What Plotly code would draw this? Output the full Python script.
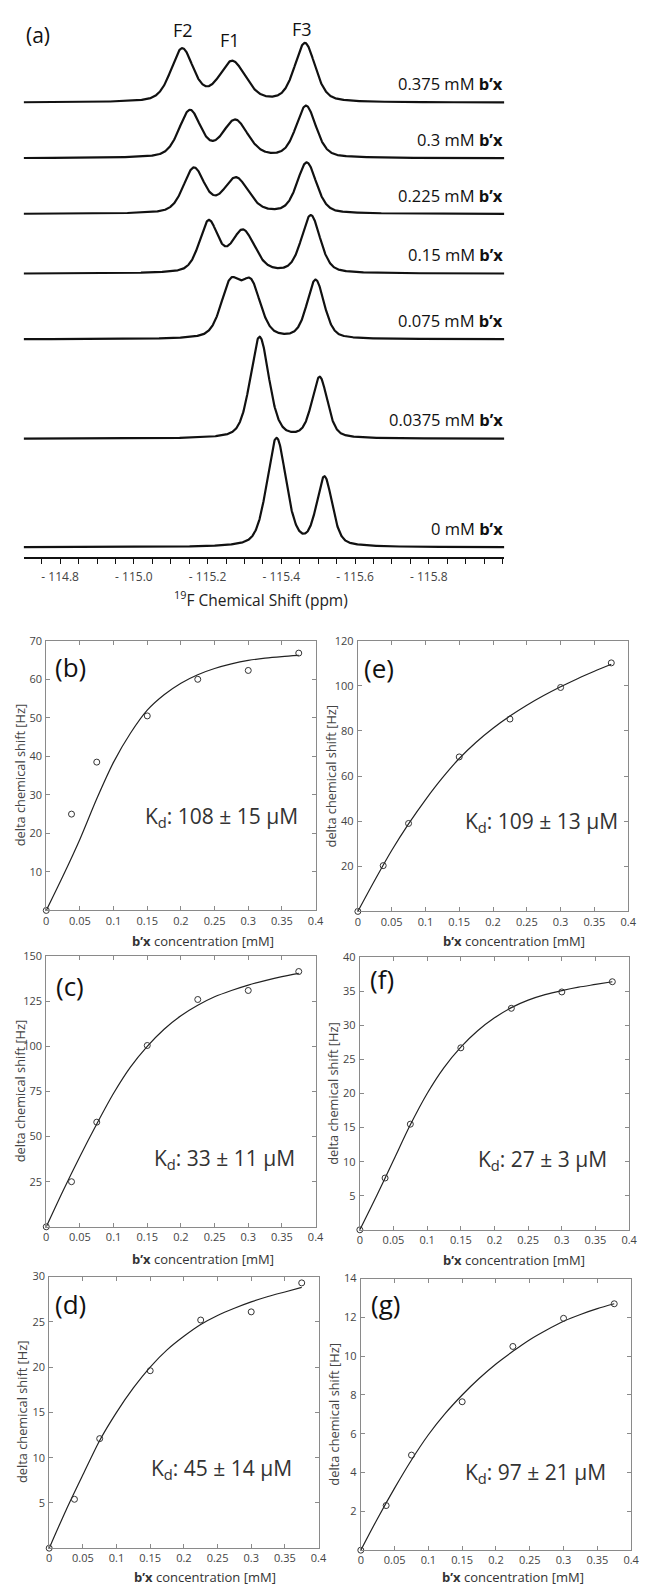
import numpy as np
import plotly.graph_objects as go

W, H = 647, 1585
FONT = "Open Sans"

# ---------------- Panel (a): 19F spectra ----------------
CONC_LABELS = ["0.375", "0.3", "0.225", "0.15", "0.075", "0.0375", "0"]
# peak positions (ppm), heights (arb. units = px), widths (FWHM, ppm) per spectrum
PEAK_POS = [
    [-115.131, -115.267, -115.464],
    [-115.152, -115.275, -115.467],
    [-115.163, -115.277, -115.469],
    [-115.203, -115.296, -115.480],
    [-115.262, -115.318, -115.493],
    [-115.341, -115.504],
    [-115.387, -115.517],
]
PEAK_HEIGHT = [
    [53, 40, 59],
    [47, 37, 52],
    [45, 35, 51],
    [51, 42, 58],
    [53, 52, 59],
    [102, 61],
    [109, 69],
]
PEAK_FWHM = [
    [0.072, 0.085, 0.066],
    [0.070, 0.082, 0.064],
    [0.068, 0.080, 0.062],
    [0.060, 0.075, 0.060],
    [0.062, 0.062, 0.055],
    [0.060, 0.050],
    [0.062, 0.050],
]
PEAK_LABELS = ["F2", "F1", "F3"]
AX_A_TICKS = [-114.8, -115.0, -115.2, -115.4, -115.6, -115.8]

# layout of the stack (pixel rows of each baseline)
BASELINE_PX = [95, 151, 207, 267, 333, 433, 542]

# ---------------- Panels (b)-(g): titration ----------------
CONC = [0, 0.0375, 0.075, 0.15, 0.225, 0.3, 0.375]
SHIFT_B = [0, 25.0, 38.5, 50.5, 60.0, 62.3, 66.8]
SHIFT_C = [0, 25.0, 58.0, 100.5, 126.0, 131.0, 141.5]
SHIFT_D = [0, 5.4, 12.1, 19.6, 25.2, 26.1, 29.3]
SHIFT_E = [0, 20.3, 39.0, 68.5, 85.3, 99.3, 110.2]
SHIFT_F = [0, 7.6, 15.5, 26.7, 32.5, 34.9, 36.4]
SHIFT_G = [0, 2.3, 4.9, 7.65, 10.5, 11.95, 12.7]

FIT_X = [0, 0.025, 0.05, 0.075, 0.1, 0.125, 0.15, 0.175, 0.2, 0.225,
         0.25, 0.275, 0.3, 0.325, 0.35, 0.375]
FIT_B = [0, 9.0, 18.5, 29.0, 38.5, 46.0, 52.0, 56.0, 59.0, 61.2,
         62.8, 64.0, 64.9, 65.5, 65.9, 66.2]
FIT_C = [0, 20.0, 39.0, 57.0, 74.0, 88.5, 100.0, 109.5, 117.0, 122.8,
         127.5, 131.0, 134.0, 136.5, 138.7, 140.5]
FIT_D = [0, 4.2, 8.1, 11.9, 15.0, 17.7, 20.0, 21.9, 23.4, 24.7,
         25.7, 26.5, 27.2, 27.8, 28.3, 28.8]
FIT_E = [0, 13.8, 27.0, 38.8, 49.5, 59.2, 67.8, 75.0, 81.2, 86.6,
         91.4, 95.7, 99.6, 103.2, 106.5, 109.6]
FIT_F = [0, 5.0, 10.2, 15.4, 20.0, 23.8, 26.8, 29.2, 31.1, 32.6,
         33.7, 34.5, 35.1, 35.6, 36.0, 36.4]
FIT_G = [0, 1.65, 3.2, 4.65, 5.95, 7.05, 8.0, 8.85, 9.6, 10.25,
         10.85, 11.35, 11.8, 12.15, 12.45, 12.7]

KD_B = "108 ± 15"
KD_C = "33 ± 11"
KD_D = "45 ± 14"
KD_E = "109 ± 13"
KD_F = "27 ± 3"
KD_G = "97 ± 21"

Y_MAX = {"b": 70, "c": 150, "d": 30, "e": 120, "f": 40, "g": 14}
Y_STEP = {"b": 10, "c": 25, "d": 5, "e": 20, "f": 5, "g": 2}
X_TICKS = [0, 0.05, 0.1, 0.15, 0.2, 0.25, 0.3, 0.35, 0.4]
X_TICKTEXT = ["0", "0.05", "0.1", "0.15", "0.2", "0.25", "0.3", "0.35", "0.4"]


def px(x):
    return x / W


def py(y):
    return 1 - y / H


fig = go.Figure()
annotations = []

# ---- panel (a) ----
A_LEFT, A_RIGHT = 21, 510
A_TOP, A_BOTTOM = 12, 552
X_L, X_R = -114.701, -116.005
grid = np.linspace(X_L, X_R, 1400)
ETA = 0.4


def pvoigt(x, x0, h, w):
    g = np.exp(-4 * np.log(2) * ((x - x0) / w) ** 2)
    lo = 1.0 / (1 + 4 * ((x - x0) / w) ** 2)
    return h * ((1 - ETA) * g + ETA * lo)


for i, lab in enumerate(CONC_LABELS):
    yy = np.zeros_like(grid)
    for x0, h, w in zip(PEAK_POS[i], PEAK_HEIGHT[i], PEAK_FWHM[i]):
        yy += pvoigt(grid, x0, h, w)
    fig.add_trace(go.Scatter(x=grid, y=yy - BASELINE_PX[i], mode="lines",
                             line=dict(color="#111111", width=2.2),
                             xaxis="x", yaxis="y", showlegend=False,
                             hoverinfo="skip"))
    annotations.append(dict(
        text=f"{lab} mM <b>b’x</b>", x=px(511), y=py(BASELINE_PX[i] - 19),
        xref="paper", yref="paper", xanchor="right", yanchor="middle",
        showarrow=False, font=dict(family=FONT, size=16.5, color="#111111")))

for lab, (xx, yy) in zip(PEAK_LABELS, [(183, 22), (231, 32), (304, 21)]):
    annotations.append(dict(text=lab, x=px(xx), y=py(yy), xref="paper", yref="paper",
                            showarrow=False, xanchor="center", yanchor="middle",
                            font=dict(family=FONT, size=18, color="#111111")))
annotations.append(dict(text="(a)", x=px(36), y=py(27), xref="paper", yref="paper",
                        showarrow=False, xanchor="center", yanchor="middle",
                        font=dict(family=FONT, size=21, color="#111111")))
annotations.append(dict(text="<sup>19</sup>F Chemical Shift (ppm)", x=px(262), y=py(594),
                        xref="paper", yref="paper", showarrow=False,
                        xanchor="center", yanchor="middle",
                        font=dict(family=FONT, size=15.5, color="#222222")))

a_ticktext = ["- " + f"{-v:.1f}" for v in AX_A_TICKS]

layout = dict(
    width=W, height=H, autosize=False,
    margin=dict(l=0, r=0, t=0, b=0),
    paper_bgcolor="white", plot_bgcolor="white",
    showlegend=False,
    xaxis=dict(domain=[px(A_LEFT), px(A_RIGHT)], range=[X_L, X_R], anchor="y",
               showgrid=False, zeroline=False, showline=True, linecolor="#111111",
               linewidth=1.5, ticks="outside", ticklen=5, tickwidth=1.2,
               tickcolor="#111111", tickmode="array", tickvals=AX_A_TICKS,
               ticktext=a_ticktext,
               minor=dict(tickmode="linear", tick0=-114.75, dtick=0.05,
                          ticks="outside", ticklen=5, tickwidth=1.2,
                          tickcolor="#111111", showgrid=False),
               tickfont=dict(family=FONT, size=12, color="#444444"),
               ticklabelstandoff=3),
    yaxis=dict(domain=[py(A_BOTTOM), py(A_TOP)], range=[-A_BOTTOM, -A_TOP],
               anchor="x", visible=False, showgrid=False, zeroline=False),
)

# ---- panels (b)-(g) ----
panels = [
    ("b", (44, 636, 318, 907), SHIFT_B, FIT_B, KD_B, (222, 813), (69, 662), (203, 938)),
    ("e", (361, 636, 636, 908), SHIFT_E, FIT_E, KD_E, (548, 818), (383, 663), (520, 938)),
    ("c", (44, 953, 318, 1225), SHIFT_C, FIT_C, KD_C, (225, 1157), (68, 983), (203, 1257)),
    ("f", (363, 954, 637, 1228), SHIFT_F, FIT_F, KD_F, (549, 1158), (386, 976), (520, 1258)),
    ("d", (47, 1275, 321, 1548), SHIFT_D, FIT_D, KD_D, (222, 1468), (69, 1303), (205, 1577)),
    ("g", (364, 1277, 639, 1550), SHIFT_G, FIT_G, KD_G, (542, 1472), (389, 1303), (519, 1577)),
]

for k, (name, box, pts, fit, kd, kdpos, lblpos, xtpos) in enumerate(panels):
    n = k + 2
    xa, ya = f"x{n}", f"y{n}"
    l, t, r, b = box
    ymax, ystep = Y_MAX[name], Y_STEP[name]
    yvals = [ystep * j for j in range(1, int(round(ymax / ystep)) + 1)]
    ytext = [str(v) for v in yvals]
    common = dict(showgrid=False, zeroline=False, showline=True, linecolor="#8a8a8a",
                  linewidth=1, mirror="ticks", ticks="inside", ticklen=4,
                  tickwidth=1, tickcolor="#8a8a8a",
                  tickfont=dict(family=FONT, size=11, color="#444444"))
    layout[f"xaxis{n}"] = dict(domain=[px(l), px(r)], range=[0, 0.4], anchor=ya,
                               tickvals=X_TICKS, ticktext=X_TICKTEXT,
                               ticklabelstandoff=0, **common)
    layout[f"yaxis{n}"] = dict(domain=[py(b), py(t)], range=[0, ymax], anchor=xa,
                               tickvals=yvals, ticktext=ytext, ticklabelstandoff=1,
                               **common)
    fig.add_trace(go.Scatter(x=FIT_X, y=fit, mode="lines", xaxis=xa, yaxis=ya,
                             line=dict(color="#222222", width=1.2, shape="spline",
                                       smoothing=0.8),
                             showlegend=False, hoverinfo="skip"))
    fig.add_trace(go.Scatter(x=CONC, y=pts, mode="markers", xaxis=xa, yaxis=ya,
                             marker=dict(symbol="circle-open", size=6, color="#333333",
                                         line=dict(width=1, color="#333333")),
                             cliponaxis=False, showlegend=False, hoverinfo="skip"))
    annotations.append(dict(text=f"K<sub>d</sub>: {kd} μM", x=px(kdpos[0]), y=py(kdpos[1]),
                            xref="paper", yref="paper", showarrow=False,
                            xanchor="center", yanchor="middle",
                            font=dict(family=FONT, size=21, color="#333333")))
    annotations.append(dict(text=f"({name})", x=px(lblpos[0]), y=py(lblpos[1]),
                            xref="paper", yref="paper", showarrow=False,
                            xanchor="center", yanchor="middle",
                            font=dict(family=FONT, size=26, color="#111111")))
    annotations.append(dict(text="<b>b’x</b> concentration [mM]", x=px(xtpos[0]),
                            y=py(xtpos[1]), xref="paper", yref="paper", showarrow=False,
                            xanchor="center", yanchor="middle",
                            font=dict(family=FONT, size=13, color="#333333")))
    annotations.append(dict(text="delta chemical shift [Hz]", x=px(l - 27),
                            y=py((t + b) / 2), xref="paper", yref="paper",
                            showarrow=False, textangle=-90,
                            xanchor="center", yanchor="middle",
                            font=dict(family=FONT, size=12.8, color="#444444")))

layout["annotations"] = annotations
fig.update_layout(**layout)
fig.write_html("out.html", config={"displayModeBar": False},
               post_script="document.body.style.margin='0';"
                           "document.body.style.overflow='hidden';")
